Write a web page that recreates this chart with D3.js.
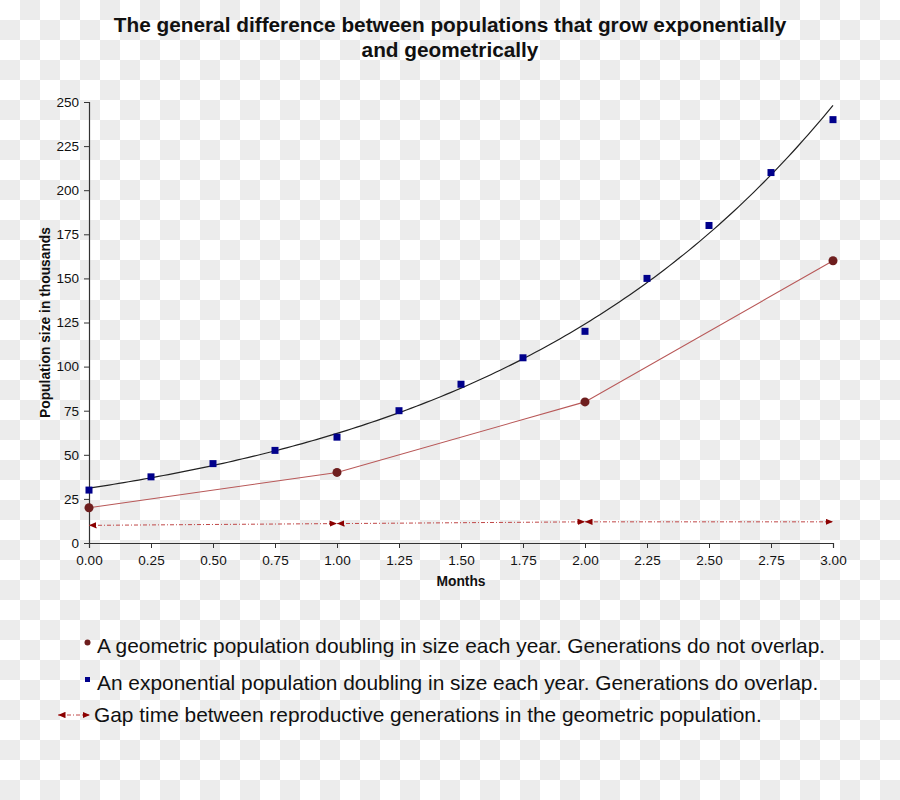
<!DOCTYPE html>
<html>
<head>
<meta charset="utf-8">
<script src="https://cdn.jsdelivr.net/npm/d3@7"></script>
<style>
  body { margin: 0; }
  svg { display: block; }
  text { font-family: "Liberation Sans", Arial, Helvetica, sans-serif; fill: #111; }
</style>
</head>
<body>
<script>
// exponential population, sampled every quarter month
const months = [0, 0.25, 0.5, 0.75, 1, 1.25, 1.5, 1.75, 2, 2.25, 2.5, 2.75, 3];
const exponentialPop = [30, 37.5, 45, 52.5, 60, 75, 90, 105, 120, 150, 180, 210, 240];

// geometric population, one value per generation
const geoMonths = [0, 1, 2, 3];
const geometricPop = [20, 40, 80, 160];

// gap arrows between generations
const gapFrom = [0, 1, 2];
const gapTo = [1, 2, 3];
const gapFromY = [10, 11, 12];
const gapToY = [11, 12, 12];

const xTicks = [0, 0.25, 0.5, 0.75, 1, 1.25, 1.5, 1.75, 2, 2.25, 2.5, 2.75, 3];
const yTicks = [0, 25, 50, 75, 100, 125, 150, 175, 200, 225, 250];

const titleLines = ["The general difference between populations that grow exponentially", "and geometrically"];
const legendLabels = [
    "A geometric population doubling in size each year. Generations do not overlap.",
    "An exponential population doubling in size each year. Generations do overlap.",
    "Gap time between reproductive generations in the geometric population."
];

const width = 900, height = 800;
const maroon = "#6e1e1e", navy = "#00008b", redLine = "#b85858", arrowRed = "#8b0000";

const svg = d3.select("body").append("svg")
    .attr("width", width)
    .attr("height", height);

const defs = svg.append("defs");

// transparency-style checkerboard backdrop
const pat = defs.append("pattern")
    .attr("id", "checker")
    .attr("width", 40).attr("height", 40)
    .attr("patternUnits", "userSpaceOnUse");
pat.append("rect").attr("width", 40).attr("height", 40).attr("fill", "#ffffff");
pat.append("rect").attr("x", 20).attr("y", 0).attr("width", 20).attr("height", 20).attr("fill", "#ececec");
pat.append("rect").attr("x", 0).attr("y", 20).attr("width", 20).attr("height", 20).attr("fill", "#ececec");
svg.append("rect").attr("width", width).attr("height", height).attr("fill", "url(#checker)");

defs.append("marker")
    .attr("id", "arrowhead")
    .attr("viewBox", "0 0 7 6")
    .attr("refX", 7).attr("refY", 3)
    .attr("markerWidth", 7.5).attr("markerHeight", 6.5)
    .attr("markerUnits", "userSpaceOnUse")
    .attr("orient", "auto-start-reverse")
    .append("path")
    .attr("d", "M0,0 L7,3 L0,6 Z")
    .attr("fill", arrowRed);

const x = d3.scaleLinear().domain([0, 3]).range([89, 833]);
const y = d3.scaleLinear().domain([0, 250]).range([543, 102]);

/* ------- TITLE -------*/
svg.append("g").selectAll("text")
    .data(titleLines)
    .enter()
    .append("text")
    .attr("x", 450)
    .attr("y", function(d, i) { return 32 + i * 25; })
    .attr("text-anchor", "middle")
    .style("font-family", '"Liberation Sans Narrow", "Arial Narrow", "Liberation Sans", sans-serif')
    .style("font-weight", "bold")
    .style("font-size", "20.8px")
    .text(function(d) { return d; });

/* ------- AXES -------*/
const xAxis = svg.append("g")
    .attr("transform", "translate(0," + y(0) + ")")
    .call(d3.axisBottom(x).tickValues(xTicks).tickFormat(d3.format(".2f")).tickSizeInner(5).tickSizeOuter(5));

const yAxis = svg.append("g")
    .attr("transform", "translate(" + x(0) + ",0)")
    .call(d3.axisLeft(y).tickValues(yTicks).tickSizeInner(5).tickSizeOuter(5));

[xAxis, yAxis].forEach(function(ax) {
    ax.select(".domain").attr("stroke", "#333").attr("stroke-width", 1.2);
    ax.selectAll(".tick line").attr("stroke", "#333");
    ax.selectAll(".tick text")
        .style("font-family", '"Liberation Sans", Arial, sans-serif')
        .style("font-size", "13.5px")
        .attr("fill", "#111");
});
xAxis.selectAll(".tick text").attr("y", 12);
yAxis.selectAll(".tick text").attr("x", -10);

svg.append("text")
    .attr("transform", "translate(50," + ((y(0) + y(250)) / 2) + ") rotate(-90)")
    .attr("text-anchor", "middle")
    .style("font-weight", "bold")
    .style("font-size", "13.8px")
    .text("Population size in thousands");

svg.append("text")
    .attr("x", (x(0) + x(3)) / 2)
    .attr("y", 586)
    .attr("text-anchor", "middle")
    .style("font-weight", "bold")
    .style("font-size", "13.8px")
    .text("Months");

/* ------- EXPONENTIAL TRENDLINE (least squares fit on log values) -------*/
const lnY = exponentialPop.map(Math.log);
const mx = d3.mean(months), my = d3.mean(lnY);
const slope = d3.sum(months, function(m, i) { return (m - mx) * (lnY[i] - my); }) /
              d3.sum(months, function(m) { return (m - mx) * (m - mx); });
const intercept = my - slope * mx;
const fit = function(t) { return Math.exp(intercept + slope * t); };

const trendXs = d3.range(0, 3.0001, 0.02);
svg.append("path")
    .datum(trendXs)
    .attr("fill", "none")
    .attr("stroke", "#222")
    .attr("stroke-width", 1.2)
    .attr("d", d3.line().x(function(d) { return x(d); }).y(function(d) { return y(fit(d)); }));

/* ------- GEOMETRIC LINE -------*/
const geoData = geoMonths.map(function(m, i) { return { m: m, v: geometricPop[i] }; });
svg.append("path")
    .datum(geoData)
    .attr("fill", "none")
    .attr("stroke", redLine)
    .attr("stroke-width", 1.1)
    .attr("d", d3.line().x(function(d) { return x(d.m); }).y(function(d) { return y(d.v); }));

/* ------- GAP ARROWS -------*/
svg.append("g").selectAll("line")
    .data(gapFrom)
    .enter()
    .append("line")
    .attr("x1", function(d) { return x(d); })
    .attr("y1", function(d, i) { return y(gapFromY[i]); })
    .attr("x2", function(d, i) { return x(gapTo[i]); })
    .attr("y2", function(d, i) { return y(gapToY[i]); })
    .attr("stroke", "#c04848")
    .attr("stroke-width", 1)
    .attr("stroke-dasharray", "4,2,1,2")
    .attr("marker-start", "url(#arrowhead)")
    .attr("marker-end", "url(#arrowhead)");

/* ------- POINTS -------*/
svg.append("g").selectAll("rect")
    .data(months)
    .enter()
    .append("rect")
    .attr("x", function(d) { return x(d) - 3.5; })
    .attr("y", function(d, i) { return y(exponentialPop[i]) - 3.5; })
    .attr("width", 7)
    .attr("height", 7)
    .attr("fill", navy);

svg.append("g").selectAll("circle")
    .data(geoData)
    .enter()
    .append("circle")
    .attr("cx", function(d) { return x(d.m); })
    .attr("cy", function(d) { return y(d.v); })
    .attr("r", 4.5)
    .attr("fill", maroon);

/* ------- LEGEND -------*/
const legendY = [653, 690, 722];
const legend = svg.append("g").attr("class", "legend");

legend.selectAll("text")
    .data(legendLabels)
    .enter()
    .append("text")
    .attr("x", function(d, i) { return i === 2 ? 94 : 97; })
    .attr("y", function(d, i) { return legendY[i]; })
    .style("font-size", "20.9px")
    .text(function(d) { return d; });

legend.append("circle")
    .attr("cx", 87.5).attr("cy", 642.5).attr("r", 3)
    .attr("fill", maroon);
legend.append("rect")
    .attr("x", 85).attr("y", 677).attr("width", 5).attr("height", 5)
    .attr("fill", navy);
legend.append("line")
    .attr("x1", 58).attr("y1", 715).attr("x2", 90).attr("y2", 715)
    .attr("stroke", "#c04848")
    .attr("stroke-dasharray", "4,2,1,2")
    .attr("marker-start", "url(#arrowhead)")
    .attr("marker-end", "url(#arrowhead)");
</script>
</body>
</html>
